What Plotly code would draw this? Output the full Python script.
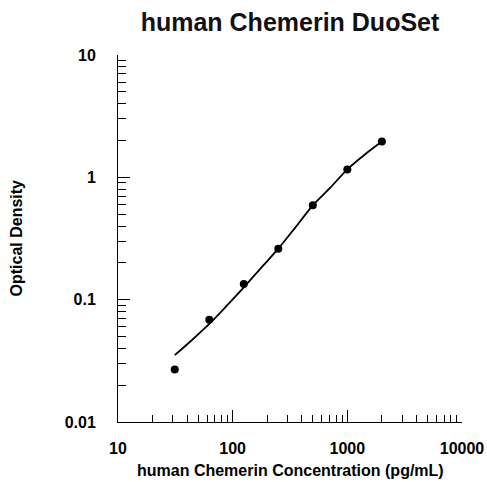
import plotly.graph_objects as go

# Standard concentrations (pg/mL) and measured optical densities
conc = [31.25, 62.5, 125, 250, 500, 1000, 2000]
od = [0.0268, 0.0686, 0.134, 0.261, 0.590, 1.16, 1.96]

# Fitted standard curve
curve_conc = [31.25, 44.2, 62.5, 88.4, 125, 177, 250, 354, 500, 707, 1000, 1414, 2000]
curve_od = [0.0352, 0.0468, 0.0633, 0.0888, 0.126, 0.182, 0.261, 0.392, 0.590, 0.819, 1.162, 1.53, 1.96]

x_ticks = [10, 100, 1000, 10000]
x_ticktext = ["10", "100", "1000", "10000"]
y_ticks = [0.01, 0.1, 1, 10]
y_ticktext = ["0.01", "0.1", "1", "10"]

title = "human Chemerin DuoSet"
x_title = "human Chemerin Concentration (pg/mL)"
y_title = "Optical Density"

FONT = "Liberation Sans, Arial, sans-serif"

x_minor = [m * 10 ** d for d in range(1, 4) for m in range(2, 10)]
y_minor = [m * 10 ** d for d in range(-2, 1) for m in range(2, 10)]

fig = go.Figure()
fig.add_trace(go.Scatter(
    x=curve_conc, y=curve_od, mode="lines",
    line=dict(color="black", width=1.8, shape="spline", smoothing=0.8),
    hoverinfo="skip", showlegend=False,
))
fig.add_trace(go.Scatter(
    x=conc, y=od, mode="markers",
    marker=dict(color="black", size=8),
    showlegend=False,
))

axis_common = dict(
    showgrid=False, zeroline=False, showline=True, linecolor="black", linewidth=1,
    ticks="inside", tickcolor="black", tickwidth=1, ticklen=12, automargin=False,
    tickfont=dict(family=FONT, size=16, color="black", weight="bold"),
)

fig.update_xaxes(
    type="log", range=[1, 4], tickvals=x_ticks, ticktext=x_ticktext,
    minor=dict(tickvals=x_minor, ticks="inside", ticklen=7, tickcolor="black", tickwidth=1, showgrid=False),
    ticklabelstandoff=12,
    **axis_common,
)
fig.update_yaxes(
    type="log", range=[-2, 1], tickvals=y_ticks, ticktext=y_ticktext,
    minor=dict(tickvals=y_minor, ticks="inside", ticklen=8, tickcolor="black", tickwidth=1, showgrid=False),
    ticklabelstandoff=18,
    **axis_common,
)

fig.update_layout(
    width=487, height=482,
    margin=dict(l=118, r=25, t=55, b=60, autoexpand=False),
    paper_bgcolor="white", plot_bgcolor="white",
    showlegend=False,
    title=dict(text=title, x=(118 + 462) / 2 / 487, xanchor="center", y=1 - 22 / 482, yanchor="middle",
               font=dict(family=FONT, size=25, color="#111111", weight="bold"), automargin=False),
    annotations=[
        dict(text=x_title, xref="paper", yref="paper", x=0.5, y=0, yshift=-48,
             xanchor="center", yanchor="middle", showarrow=False,
             font=dict(family=FONT, size=16, color="black", weight="bold")),
        dict(text=y_title, xref="paper", yref="paper", x=0, xshift=-102, y=0.5,
             xanchor="center", yanchor="middle", showarrow=False, textangle=-90,
             font=dict(family=FONT, size=16, color="black", weight="bold")),
    ],
)

fig.write_html(
    "out.html",
    config={"displayModeBar": False},
    post_script="document.body.style.margin='0';document.body.style.padding='0';document.documentElement.style.overflow='hidden';",
)
